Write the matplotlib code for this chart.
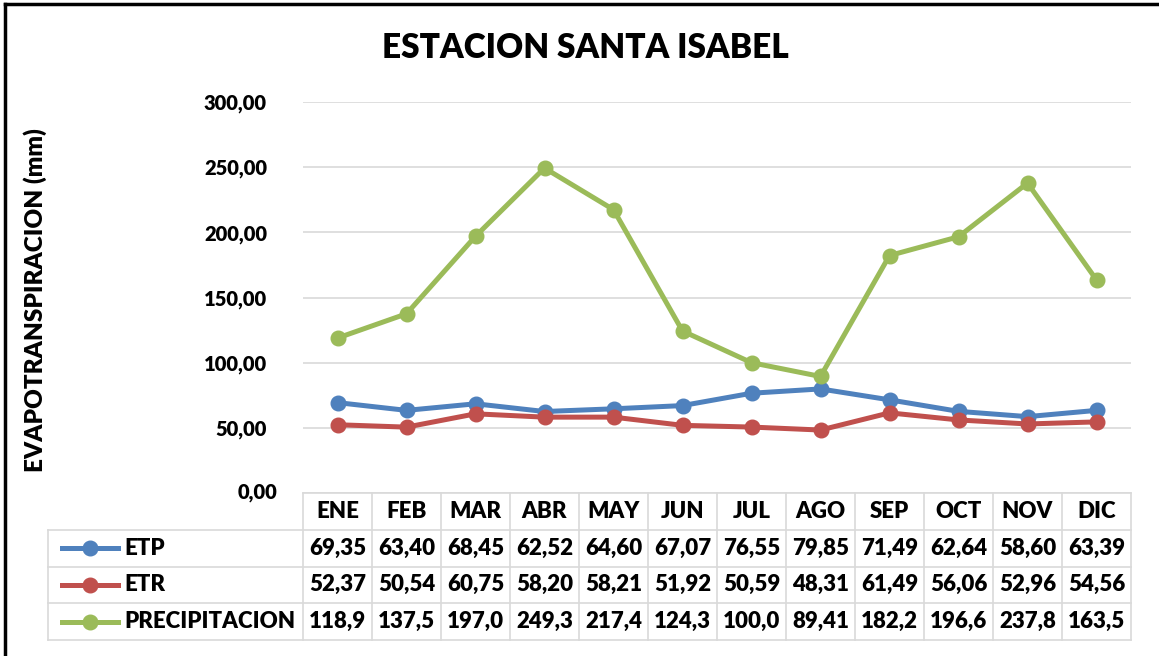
import matplotlib.pyplot as plt
from matplotlib.lines import Line2D

meses = ['ENE', 'FEB', 'MAR', 'ABR', 'MAY', 'JUN', 'JUL', 'AGO', 'SEP', 'OCT', 'NOV', 'DIC']
etp = [69.35, 63.40, 68.45, 62.52, 64.60, 67.07, 76.55, 79.85, 71.49, 62.64, 58.60, 63.39]
etr = [52.37, 50.54, 60.75, 58.20, 58.21, 51.92, 50.59, 48.31, 61.49, 56.06, 52.96, 54.56]
precip = [118.9, 137.5, 197.0, 249.3, 217.4, 124.3, 100.0, 89.41, 182.2, 196.6, 237.8, 163.5]
precip_txt = ['118,9', '137,5', '197,0', '249,3', '217,4', '124,3', '100,0', '89,41', '182,2', '196,6', '237,8', '163,5']
series_names = ['ETP', 'ETR', 'PRECIPITACION']
yticks = [0, 50, 100, 150, 200, 250, 300]

colors = ['#4f81bd', '#c0504d', '#9bbb59']
plt.rcParams['font.family'] = ['Lato', 'DejaVu Sans']
WT = 'heavy'

W, H = 1159, 656
fig = plt.figure(figsize=(W / 100, H / 100), dpi=100)

def px_box(x0, y0, x1, y1):
    return [x0 / W, 1 - y1 / H, (x1 - x0) / W, (y1 - y0) / H]

# main plot
ax = fig.add_axes(px_box(303, 102, 1131, 493))
x = list(range(len(meses)))
for vals, c in zip([etp, etr, precip], colors):
    ax.plot(x, vals, color=c, lw=3.6, marker='o', ms=10.5, zorder=3)
ax.set_xlim(-0.5, 11.5)
ax.set_ylim(0, 300)
ax.set_yticks(yticks)
ax.set_yticklabels([f'{v:.2f}'.replace('.', ',') for v in yticks], fontsize=14.5, fontweight=WT)
ax.tick_params(axis='y', length=0, pad=26)
ax.set_xticks([])
ax.grid(axis='y', color='#d9d9d9', lw=1.2)
ax.set_axisbelow(True)
for s in ax.spines.values():
    s.set_visible(False)
ax.yaxis.get_ticklabels()[0].set_visible(False)

fig.text(277 / W, 1 - 492 / H, '0,00', ha='right', va='center', fontsize=14.5, fontweight=WT)

fig.text(585 / W, 1 - 48 / H, 'ESTACION SANTA ISABEL', ha='center', va='center',
         fontsize=24, fontweight=WT)
fig.text(35 / W, 1 - 300 / H, 'EVAPOTRANSPIRACION (mm)', ha='center', va='center',
         rotation=90, fontsize=17.5, fontweight=WT)

# data table underneath
tax = fig.add_axes(px_box(48, 493, 1131, 640))
lead = 255 / 69.0
tax.set_xlim(-0.5 - lead, 11.5)
tax.set_ylim(4, 0)
tax.axis('off')
gc = '#d9d9d9'
# horizontal lines
tax.plot([-0.5, 11.5], [0, 0], color=gc, lw=1.2, clip_on=False)
for r in [1, 2, 3, 4]:
    tax.plot([-0.5 - lead, 11.5], [r, r], color=gc, lw=1.2, clip_on=False)
# vertical lines
tax.plot([-0.5 - lead, -0.5 - lead], [1, 4], color=gc, lw=1.2, clip_on=False)
for i in range(13):
    tax.plot([i - 0.5, i - 0.5], [0, 4], color=gc, lw=1.2, clip_on=False)

fs = 16
for i, m in enumerate(meses):
    tax.text(i, 0.5, m, ha='center', va='center', fontsize=fs, fontweight=WT)
    tax.text(i, 1.5, f'{etp[i]:.2f}'.replace('.', ','), ha='center', va='center', fontsize=fs, fontweight=WT)
    tax.text(i, 2.5, f'{etr[i]:.2f}'.replace('.', ','), ha='center', va='center', fontsize=fs, fontweight=WT)
    tax.text(i, 3.5, precip_txt[i], ha='center', va='center', fontsize=fs, fontweight=WT)

x0 = -0.5 - lead
for r, (name, c) in enumerate(zip(series_names, colors)):
    y = r + 1.5
    tax.plot([x0 + 14 / 69, x0 + 70 / 69], [y, y], color=c, lw=3.6, clip_on=False)
    tax.plot([x0 + 42 / 69], [y], marker='o', color=c, ms=10.5, clip_on=False)
    tax.text(x0 + 76 / 69, y, name, ha='left', va='center', fontsize=fs, fontweight=WT)

# outer frame (only top and left edges show in the crop)
fig.add_artist(Line2D([5 / W, 5 / W], [0, 1 - 4 / H], color='black', lw=2.5))
fig.add_artist(Line2D([5 / W, 1], [1 - 4 / H, 1 - 4 / H], color='black', lw=2.5))

fig.savefig('out.png', dpi=100, facecolor='white')
